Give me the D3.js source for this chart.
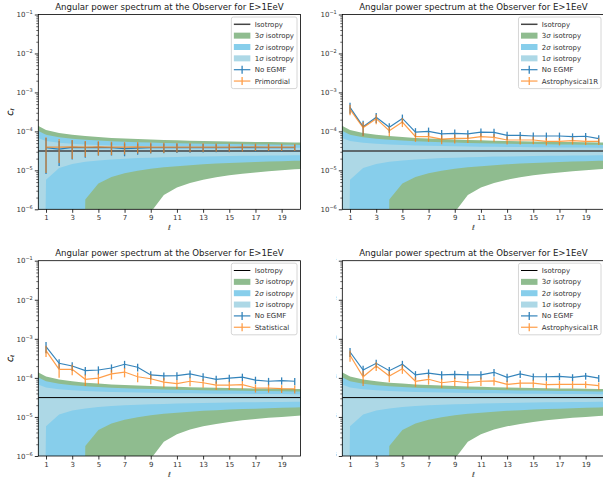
<!DOCTYPE html>
<html>
<head>
<meta charset="utf-8">
<script src="https://cdn.jsdelivr.net/npm/d3@7"></script>
<style>
    body { margin: 0; background: #fff; }
    svg { display: block; }
    text { font-family: "DejaVu Sans", sans-serif; }
</style>
</head>
<body>
<div id="wrapper"></div>
<script>

// multipoles used for the isotropy bands (drawn a bit past the plotted range)
const bandEll = [0, 1, 2, 3, 4, 5, 6, 7, 8, 9, 10, 11, 12, 13, 14, 15, 16, 17, 18, 19, 20, 21]
const isoLevel = 3.13e-5

// band edges, 0 = below the axis
const sig1Hi = [7.56e-5, 5.69e-5, 5.11e-5, 4.80e-5, 4.61e-5, 4.46e-5, 4.36e-5, 4.27e-5, 4.20e-5, 4.15e-5, 4.10e-5, 4.05e-5, 4.02e-5, 3.98e-5, 3.95e-5, 3.93e-5, 3.90e-5, 3.88e-5, 3.86e-5, 3.84e-5, 3.82e-5, 3.81e-5]
const sig1Lo = [0, 5.74e-6, 1.15e-5, 1.46e-5, 1.65e-5, 1.80e-5, 1.90e-5, 1.99e-5, 2.06e-5, 2.12e-5, 2.16e-5, 2.21e-5, 2.25e-5, 2.28e-5, 2.31e-5, 2.34e-5, 2.36e-5, 2.38e-5, 2.40e-5, 2.42e-5, 2.44e-5, 2.46e-5]
const sig2Hi = [1.20e-4, 8.24e-5, 7.09e-5, 6.48e-5, 6.08e-5, 5.80e-5, 5.59e-5, 5.42e-5, 5.28e-5, 5.16e-5, 5.06e-5, 4.98e-5, 4.90e-5, 4.83e-5, 4.77e-5, 4.72e-5, 4.67e-5, 4.63e-5, 4.59e-5, 4.55e-5, 4.51e-5, 4.48e-5]
const sig2Lo = [0, 0, 0, 0, 1.79e-6, 4.61e-6, 6.75e-6, 8.44e-6, 9.83e-6, 1.10e-5, 1.20e-5, 1.28e-5, 1.36e-5, 1.43e-5, 1.49e-5, 1.54e-5, 1.59e-5, 1.63e-5, 1.68e-5, 1.71e-5, 1.75e-5, 1.78e-5]
const sig3Hi = [1.64e-4, 1.08e-4, 9.07e-5, 8.15e-5, 7.56e-5, 7.13e-5, 6.81e-5, 6.56e-5, 6.35e-5, 6.18e-5, 6.03e-5, 5.90e-5, 5.79e-5, 5.69e-5, 5.60e-5, 5.52e-5, 5.44e-5, 5.37e-5, 5.31e-5, 5.26e-5, 5.20e-5, 5.16e-5]
const sig3Lo = [0, 0, 0, 0, 0, 0, 0, 0, 0, 8.4e-7, 2.32e-6, 3.61e-6, 4.75e-6, 5.74e-6, 6.64e-6, 7.45e-6, 8.18e-6, 8.86e-6, 9.47e-6, 1.00e-5, 1.06e-5, 1.11e-5]

const ells = [1, 2, 3, 4, 5, 6, 7, 8, 9, 10, 11, 12, 13, 14, 15, 16, 17, 18, 19, 20]
const xTicks = [1, 3, 5, 7, 9, 11, 13, 15, 17, 19]
const yMajor = [1e-6, 1e-5, 1e-4, 1e-3, 1e-2, 1e-1]
const yExp = ["6", "5", "4", "3", "2", "1"]

// top left
const tlEgmf = [3.8e-5, 3.5e-5, 3.9e-5, 3.8e-5, 3.9e-5, 3.8e-5, 3.6e-5, 3.7e-5, 3.8e-5, 3.8e-5, 3.8e-5, 3.8e-5, 3.8e-5, 3.8e-5, 3.8e-5, 3.9e-5, 3.8e-5, 3.8e-5, 3.8e-5, 3.8e-5]
const tlEgmfErr = [3.0e-5, 2.2e-5, 2.0e-5, 1.7e-5, 1.5e-5, 1.4e-5, 1.3e-5, 1.2e-5, 1.1e-5, 1.05e-5, 1.0e-5, 9.7e-6, 9.3e-6, 9.0e-6, 8.7e-6, 8.5e-6, 8.3e-6, 8.1e-6, 7.9e-6, 7.7e-6]
const tlPrim = [3.95e-5, 3.95e-5, 4.0e-5, 3.95e-5, 4.0e-5, 3.95e-5, 3.95e-5, 4.0e-5, 3.95e-5, 3.95e-5, 3.95e-5, 3.95e-5, 3.95e-5, 3.95e-5, 3.95e-5, 3.95e-5, 4.0e-5, 3.95e-5, 3.95e-5, 3.95e-5]
const tlPrimErr = [3.1e-5, 2.4e-5, 2.05e-5, 1.75e-5, 1.6e-5, 1.5e-5, 1.4e-5, 1.3e-5, 1.2e-5, 1.15e-5, 1.1e-5, 1.05e-5, 1.0e-5, 9.7e-6, 9.4e-6, 9.1e-6, 8.8e-6, 8.5e-6, 8.2e-6, 8.0e-6]

// top right
const trEgmf = [4.15e-4, 1.32e-4, 2.30e-4, 1.27e-4, 2.15e-4, 9.6e-5, 1.0e-4, 8.6e-5, 8.9e-5, 8.6e-5, 9.6e-5, 9.4e-5, 7.9e-5, 7.9e-5, 7.6e-5, 7.6e-5, 7.6e-5, 7.3e-5, 7.5e-5, 6.5e-5]
const trEgmfErr = [1.3e-4, 5.5e-5, 6.5e-5, 3.5e-5, 5.5e-5, 2.5e-5, 2.5e-5, 2.2e-5, 2.2e-5, 2.1e-5, 2.3e-5, 2.2e-5, 1.9e-5, 1.8e-5, 1.7e-5, 1.7e-5, 1.7e-5, 1.6e-5, 1.6e-5, 1.4e-5]
const trAstro = [3.69e-4, 1.25e-4, 2.12e-4, 1.04e-4, 1.74e-4, 7.3e-5, 7.3e-5, 6.3e-5, 6.6e-5, 6.6e-5, 7.3e-5, 7.0e-5, 6.0e-5, 6.0e-5, 6.0e-5, 5.56e-5, 5.56e-5, 5.8e-5, 5.56e-5, 5.56e-5]
const trAstroErr = [1.1e-4, 5.0e-5, 6.0e-5, 3.0e-5, 4.5e-5, 1.9e-5, 1.9e-5, 1.6e-5, 1.7e-5, 1.6e-5, 1.7e-5, 1.6e-5, 1.4e-5, 1.4e-5, 1.3e-5, 1.2e-5, 1.2e-5, 1.2e-5, 1.1e-5, 1.1e-5]

// bottom left
const blEgmf = [6.3e-4, 2.36e-4, 2.01e-4, 1.53e-4, 1.59e-4, 1.79e-4, 2.23e-4, 1.87e-4, 1.19e-4, 1.12e-4, 1.14e-4, 1.26e-4, 1.07e-4, 9.2e-5, 9.9e-5, 1.05e-4, 8.8e-5, 8.2e-5, 8.5e-5, 8.2e-5]
const blEgmfErr = [2.0e-4, 6.5e-5, 5.0e-5, 3.8e-5, 3.8e-5, 4.2e-5, 5.0e-5, 4.2e-5, 2.8e-5, 2.6e-5, 2.6e-5, 2.8e-5, 2.4e-5, 2.1e-5, 2.2e-5, 2.3e-5, 1.9e-5, 1.8e-5, 1.8e-5, 1.7e-5]
const blStat = [5.0e-4, 1.66e-4, 1.66e-4, 9.2e-5, 9.9e-5, 1.26e-4, 1.41e-4, 1.07e-4, 9.5e-5, 7.8e-5, 7.1e-5, 8.2e-5, 7.5e-5, 6.5e-5, 6.5e-5, 6.7e-5, 5.5e-5, 5.5e-5, 5.3e-5, 5.2e-5]
const blStatErr = [1.6e-4, 6.5e-5, 5.0e-5, 3.0e-5, 3.0e-5, 3.5e-5, 3.8e-5, 3.0e-5, 2.6e-5, 2.1e-5, 1.9e-5, 2.1e-5, 1.9e-5, 1.6e-5, 1.6e-5, 1.6e-5, 1.3e-5, 1.3e-5, 1.2e-5, 1.2e-5]

// bottom right
const brEgmf = [4.6e-4, 1.59e-4, 2.36e-4, 1.53e-4, 2.23e-4, 1.19e-4, 1.33e-4, 1.19e-4, 1.23e-4, 1.19e-4, 1.19e-4, 1.39e-4, 1.03e-4, 1.26e-4, 1.07e-4, 1.07e-4, 1.09e-4, 1.03e-4, 1.12e-4, 9.9e-5]
const brEgmfErr = [1.2e-4, 4.5e-5, 5.5e-5, 3.8e-5, 5.0e-5, 3.0e-5, 3.2e-5, 2.9e-5, 2.9e-5, 2.8e-5, 2.8e-5, 3.0e-5, 2.4e-5, 2.7e-5, 2.3e-5, 2.3e-5, 2.3e-5, 2.1e-5, 2.2e-5, 2.0e-5]
const brAstro = [3.8e-4, 1.07e-4, 2.01e-4, 1.12e-4, 1.72e-4, 8.2e-5, 9.2e-5, 7.5e-5, 8.2e-5, 7.5e-5, 8.2e-5, 8.4e-5, 6.8e-5, 7.3e-5, 7.3e-5, 6.7e-5, 6.8e-5, 6.8e-5, 6.8e-5, 6.3e-5]
const brAstroErr = [1.2e-4, 4.5e-5, 5.0e-5, 3.5e-5, 4.5e-5, 2.3e-5, 2.5e-5, 2.0e-5, 2.1e-5, 1.9e-5, 2.0e-5, 2.0e-5, 1.6e-5, 1.7e-5, 1.7e-5, 1.5e-5, 1.5e-5, 1.5e-5, 1.4e-5, 1.3e-5]

const title = "Angular power spectrum at the Observer for E>1EeV"

const colors = {
    sig3: "#8fbc8f",
    sig2: "#87ceeb",
    sig1: "#add8e6",
    egmf: "#1f77b4",
    other: "#ff7f0e",
}

const panels = [
    { left: 38.3, top: 14.5, height: 194.8, iso: "#444", isoW: 1.5,
      egmf: tlEgmf, egmfErr: tlEgmfErr, other: tlPrim, otherErr: tlPrimErr, otherName: "Primordial" },
    { left: 342.3, top: 14.5, height: 194.8, iso: "#444", isoW: 1.5,
      egmf: trEgmf, egmfErr: trEgmfErr, other: trAstro, otherErr: trAstroErr, otherName: "Astrophysical1R" },
    { left: 38.3, top: 260.7, height: 195.3, iso: "#000", isoW: 1,
      egmf: blEgmf, egmfErr: blEgmfErr, other: blStat, otherErr: blStatErr, otherName: "Statistical" },
    { left: 342.3, top: 260.7, height: 195.3, iso: "#000", isoW: 1,
      egmf: brEgmf, egmfErr: brEgmfErr, other: brAstro, otherErr: brAstroErr, otherName: "Astrophysical1R", hideYLabels: true },
]
const axWidth = 262.2
const xDomain = [0.41, 20.44]

const svg = d3.select("#wrapper")
    .append("svg")
        .attr("width", 603)
        .attr("height", 481)

svg.append("rect")
    .attr("width", 603)
    .attr("height", 481)
    .attr("fill", "#fff")

// matplotlib pushes nonpositive values on a log axis far below the view
const safe = v => v > 0 ? v : 1e-30

function drawPanel(p, idx) {
    const right = p.left + axWidth
    const bottom = p.top + p.height

    const x = d3.scaleLinear().domain(xDomain).range([p.left, right])
    const y = d3.scaleLog().domain([1e-6, 1e-1]).range([bottom, p.top])

    const g = svg.append("g")

    g.append("clipPath")
        .attr("id", "clip" + idx)
        .append("rect")
            .attr("x", p.left)
            .attr("y", p.top)
            .attr("width", axWidth)
            .attr("height", p.height)

    const plot = g.append("g").attr("clip-path", `url(#clip${idx})`)

    const band = (lo, hi) => d3.area()
        .x((d, i) => x(bandEll[i]))
        .y0((d, i) => y(safe(lo[i])))
        .y1((d, i) => y(safe(hi[i])))

    plot.append("path").datum(bandEll).attr("d", band(sig3Lo, sig3Hi)).attr("fill", colors.sig3)
    plot.append("path").datum(bandEll).attr("d", band(sig2Lo, sig2Hi)).attr("fill", colors.sig2)
    plot.append("path").datum(bandEll).attr("d", band(sig1Lo, sig1Hi)).attr("fill", colors.sig1)

    plot.append("line")
        .attr("x1", p.left)
        .attr("x2", right)
        .attr("y1", y(isoLevel))
        .attr("y2", y(isoLevel))
        .attr("stroke", p.iso)
        .attr("stroke-width", p.isoW)

    // error bar series
    const series = [
        { vals: p.egmf, errs: p.egmfErr, color: colors.egmf, op: 0.9 },
        { vals: p.other, errs: p.otherErr, color: colors.other, op: 0.75 },
    ]
    series.forEach(s => {
        const sg = plot.append("g").attr("opacity", s.op)
        sg.selectAll("line")
            .data(ells)
            .join("line")
            .attr("x1", d => x(d))
            .attr("x2", d => x(d))
            .attr("y1", (d, i) => y(safe(s.vals[i] - s.errs[i])))
            .attr("y2", (d, i) => y(s.vals[i] + s.errs[i]))
            .attr("stroke", s.color)
            .attr("stroke-width", 1.3)
        sg.append("path")
            .datum(ells)
            .attr("d", d3.line().x(d => x(d)).y((d, i) => y(s.vals[i])))
            .attr("fill", "none")
            .attr("stroke", s.color)
            .attr("stroke-width", 1.2)
    })

    // axes
    const xAxis = g.append("g")
        .attr("transform", `translate(0,${bottom})`)
        .call(d3.axisBottom(x).tickValues(xTicks).tickSize(3.5).tickPadding(2.5))
    xAxis.select(".domain").remove()
    xAxis.selectAll("line").attr("stroke", "#000").attr("stroke-width", 0.8)
    xAxis.selectAll("text")
        .attr("font-size", 7)
        .attr("fill", "#333")
        .attr("font-family", "DejaVu Sans")

    const yMinor = []
    for (let e = -6; e < -1; e++) {
        for (let m = 2; m <= 9; m++) yMinor.push(m * Math.pow(10, e))
    }
    const yMin = g.append("g")
        .attr("transform", `translate(${p.left},0)`)
        .call(d3.axisLeft(y).tickValues(yMinor).tickSize(2).tickFormat(""))
    yMin.select(".domain").remove()
    yMin.selectAll("line").attr("stroke", "#000").attr("stroke-width", 0.6)

    const yAxis = g.append("g")
        .attr("transform", `translate(${p.left},0)`)
        .call(d3.axisLeft(y).tickValues(yMajor).tickSize(3.5).tickPadding(2))
    yAxis.select(".domain").remove()
    yAxis.selectAll("line").attr("stroke", "#000").attr("stroke-width", 0.8)
    yAxis.selectAll("text")
        .attr("font-size", 7)
        .attr("fill", "#333")
        .attr("font-family", "DejaVu Sans")
        .attr("dy", "0.32em")
        .text("")
        .each(function(d, i) {
            const t = d3.select(this)
            t.append("tspan").text("10")
            t.append("tspan")
                .attr("dy", -3)
                .attr("font-size", 5)
                .text("\u2212" + yExp[i])
        })

    // the neighbouring figure hides most of these labels
    if (p.hideYLabels) {
        g.append("rect")
            .attr("x", 302.5)
            .attr("y", p.top - 6)
            .attr("width", 336.2 - 302.5)
            .attr("height", p.height + 12)
            .attr("fill", "#fff")
    }

    // frame
    g.append("rect")
        .attr("x", p.left)
        .attr("y", p.top)
        .attr("width", axWidth)
        .attr("height", p.height)
        .attr("fill", "none")
        .attr("stroke", "#000")
        .attr("stroke-width", 0.8)

    // labels
    g.append("text")
        .attr("x", p.left + axWidth / 2)
        .attr("y", p.top - 4.5)
        .attr("text-anchor", "middle")
        .attr("font-size", 8.6)
        .attr("fill", "#222")
        .text(title)

    g.append("text")
        .attr("x", p.left + axWidth / 2)
        .attr("y", bottom + 21)
        .attr("text-anchor", "middle")
        .attr("font-size", 7)
        .attr("font-style", "italic")
        .attr("fill", "#333")
        .text("\u2113")

    const yl = g.append("text")
        .attr("transform", `translate(12.5,${p.top + p.height / 2}) rotate(-90)`)
        .attr("text-anchor", "middle")
        .attr("font-size", 7)
        .attr("fill", "#333")
    yl.append("tspan").attr("font-style", "italic").text("C")
    yl.append("tspan").attr("font-style", "italic").attr("font-size", 5).attr("dy", 1.5).text("\u2113")

    drawLegend(g, p, right)
}

function drawLegend(g, p, right) {
    const entries = [
        { type: "line", color: p.iso, w: p.isoW, label: ["Isotropy"] },
        { type: "patch", color: colors.sig3, label: ["3", "\u03c3", " isotropy"] },
        { type: "patch", color: colors.sig2, label: ["2", "\u03c3", " isotropy"] },
        { type: "patch", color: colors.sig1, label: ["1", "\u03c3", " isotropy"] },
        { type: "err", color: colors.egmf, op: 0.9, label: ["No EGMF"] },
        { type: "err", color: colors.other, op: 0.75, label: [p.otherName] },
    ]
    const rowH = 11.35
    const top = p.top + 2.5
    const lg = g.append("g")
    const box = lg.append("rect")
    let maxW = 0
    const texts = entries.map((e, i) => {
        const t = lg.append("text")
            .attr("y", top + 7.3 + i * rowH + 2.5)
            .attr("font-size", 7)
            .attr("fill", "#333")
        e.label.forEach((part, j) => {
            t.append("tspan")
                .attr("font-style", part === "\u03c3" ? "italic" : null)
                .text(part)
        })
        maxW = Math.max(maxW, t.node().getComputedTextLength())
        return t
    })
    const width = 23.3 + maxW + 3
    const left = right - 3.5 - width
    box.attr("x", left)
        .attr("y", top)
        .attr("width", width)
        .attr("height", entries.length * rowH + 3.5)
        .attr("rx", 2)
        .attr("fill", "#fff")
        .attr("fill-opacity", 0.8)
        .attr("stroke", "#ccc")
        .attr("stroke-width", 0.8)
    texts.forEach(t => t.attr("x", left + 23.3))

    entries.forEach((e, i) => {
        const cy = top + 7.3 + i * rowH
        const x0 = left + 2.5
        const x1 = left + 19
        if (e.type === "patch") {
            lg.append("rect")
                .attr("x", x0)
                .attr("y", cy - 3)
                .attr("width", x1 - x0)
                .attr("height", 6)
                .attr("fill", e.color)
        } else {
            const hg = lg.append("g").attr("opacity", e.op || 1)
            hg.append("line")
                .attr("x1", x0).attr("x2", x1)
                .attr("y1", cy).attr("y2", cy)
                .attr("stroke", e.color)
                .attr("stroke-width", e.w || 1.2)
            if (e.type === "err") {
                hg.append("line")
                    .attr("x1", (x0 + x1) / 2).attr("x2", (x0 + x1) / 2)
                    .attr("y1", cy - 4).attr("y2", cy + 4)
                    .attr("stroke", e.color)
                    .attr("stroke-width", 1.3)
            }
        }
    })
}

panels.forEach((p, i) => drawPanel(p, i))

</script>
</body>
</html>
